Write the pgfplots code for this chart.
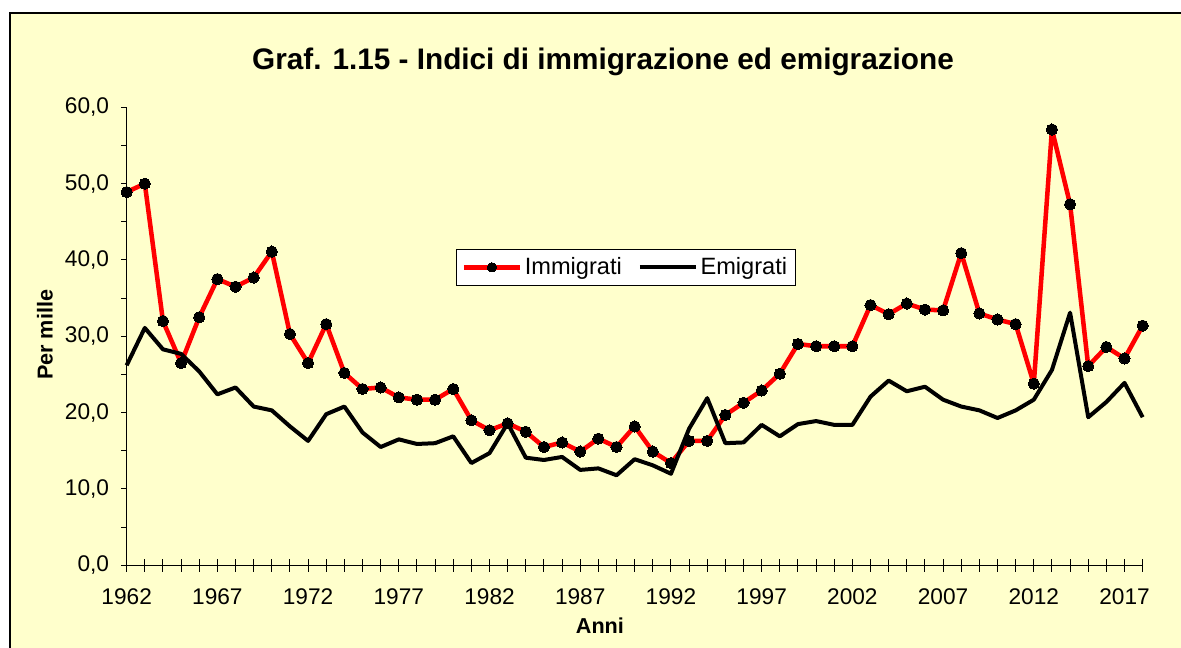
\documentclass[border=0pt]{standalone}
\usepackage{pgfplots}
\pgfplotsset{compat=1.18}
\usepackage{pgfplotstable}
\usepackage{fontspec}
\setmainfont{Liberation Sans}
\definecolor{bgyellow}{HTML}{FFFFCC}
\pgfplotstableread{
year imm emi
1962 48.9 26.2
1963 50.0 31.1
1964 32.0 28.3
1965 26.5 27.7
1966 32.5 25.4
1967 37.5 22.4
1968 36.5 23.3
1969 37.7 20.8
1970 41.1 20.3
1971 30.3 18.2
1972 26.5 16.3
1973 31.6 19.8
1974 25.2 20.8
1975 23.1 17.4
1976 23.3 15.5
1977 22.0 16.5
1978 21.7 15.9
1979 21.7 16.0
1980 23.1 16.9
1981 19.0 13.4
1982 17.7 14.7
1983 18.6 18.6
1984 17.5 14.1
1985 15.5 13.8
1986 16.1 14.2
1987 14.9 12.5
1988 16.6 12.7
1989 15.5 11.8
1990 18.2 13.9
1991 14.9 13.1
1992 13.4 12.0
1993 16.3 17.9
1994 16.3 21.9
1995 19.7 16.0
1996 21.3 16.1
1997 22.9 18.4
1998 25.1 16.9
1999 29.0 18.5
2000 28.7 18.9
2001 28.7 18.4
2002 28.7 18.4
2003 34.1 22.1
2004 32.9 24.2
2005 34.3 22.8
2006 33.5 23.4
2007 33.4 21.7
2008 40.9 20.8
2009 33.0 20.3
2010 32.2 19.3
2011 31.6 20.3
2012 23.8 21.7
2013 57.1 25.6
2014 47.3 33.1
2015 26.1 19.4
2016 28.6 21.4
2017 27.1 23.9
2018 31.4 19.4
}\datatable
\pgfplotsset{
  common/.style={
    scale only axis,
    width=762pt, height=343.5pt,
    at={(95pt,62pt)}, anchor=south west,
    xmin=1962, xmax=2018, ymin=0, ymax=60,
    every tick/.style={line width=0.75pt,black},
    clip=false,
    /pgf/number format/assume math mode=true,
    tick label style={font=\fontsize{17}{20}\selectfont},
  }
}
\begin{document}
\begin{tikzpicture}[x=0.75pt,y=0.75pt]
\path[use as bounding box] (0,0) rectangle (1181,648);
\fill[white] (0,0) rectangle (1181,648);
\fill[bgyellow] (10,-10) rectangle (1200,635);
\draw[black,line width=1.2pt] (10,-10) -- (10,635) -- (1200,635);
% x axis with long crossing ticks
\begin{axis}[
  common,
  axis x line*=bottom, axis y line=none,
  axis line style={-, line width=0.75pt, black},
  ytick=\empty,
  xtick={1962,1967,...,2017},
  minor xtick={1962,...,2018},
  tick align=center,
  major tick length=9.75pt,
  minor tick length=9.75pt,
  x tick label style={/pgf/number format/1000 sep={}},
  xticklabel style={anchor=base, yshift=-24.5pt},
  title={Graf. 1.15 - Indici di immigrazione ed emigrazione},
  title style={font=\fontsize{22.3}{26}\selectfont\bfseries, at={(axis description cs:0.4688,1.0662)}, anchor=base},
  xlabel={Anni},
  xlabel style={font=\fontsize{16.2}{19}\selectfont\bfseries, at={(axis description cs:0.4658,-0.1478)}, anchor=base},
]
\end{axis}
% y axis and data
\begin{axis}[
  common,
  axis x line=none, axis y line*=left,
  axis line style={-, line width=0.75pt, black},
  xtick=\empty,
  ytick={0,10,...,60},
  minor ytick={5,15,...,55},
  tick align=outside,
  major tick length=4pt,
  minor tick length=4pt,
  y tick label style={/pgf/number format/fixed, /pgf/number format/fixed zerofill, /pgf/number format/precision=1, /pgf/number format/use comma},
  yticklabel style={anchor=east, inner sep=0pt, xshift=-9pt},
  ylabel={Per mille},
  ylabel style={font=\fontsize{16.2}{19}\selectfont\bfseries, at={(axis description cs:-0.0804,0.503)}, anchor=center},
  legend columns=2,
  legend style={at={(axis description cs:0.4912,0.6507)}, anchor=center, draw=black, line width=0.75pt, fill=white,
    font=\fontsize{17.7}{20}\selectfont, inner xsep=4pt, inner ysep=4.5pt,
    /tikz/every even column/.append style={column sep=10pt}},
  legend image code/.code={\draw[mark repeat=2,mark phase=2,#1] plot coordinates {(0pt,0pt) (21pt,0pt) (42pt,0pt)};},
  legend image post style={mark size=3.5pt},
]
\addplot[red, line width=3.4pt, line join=round, mark=*, mark size=4.2pt, mark options={fill=black, draw=black, line width=0pt}] table[x=year,y=imm] {\datatable};
\addlegendentry{Immigrati}
\addplot[black, line width=3pt, line join=round] table[x=year,y=emi] {\datatable};
\addlegendentry{Emigrati}
\end{axis}
\end{tikzpicture}
\end{document}
